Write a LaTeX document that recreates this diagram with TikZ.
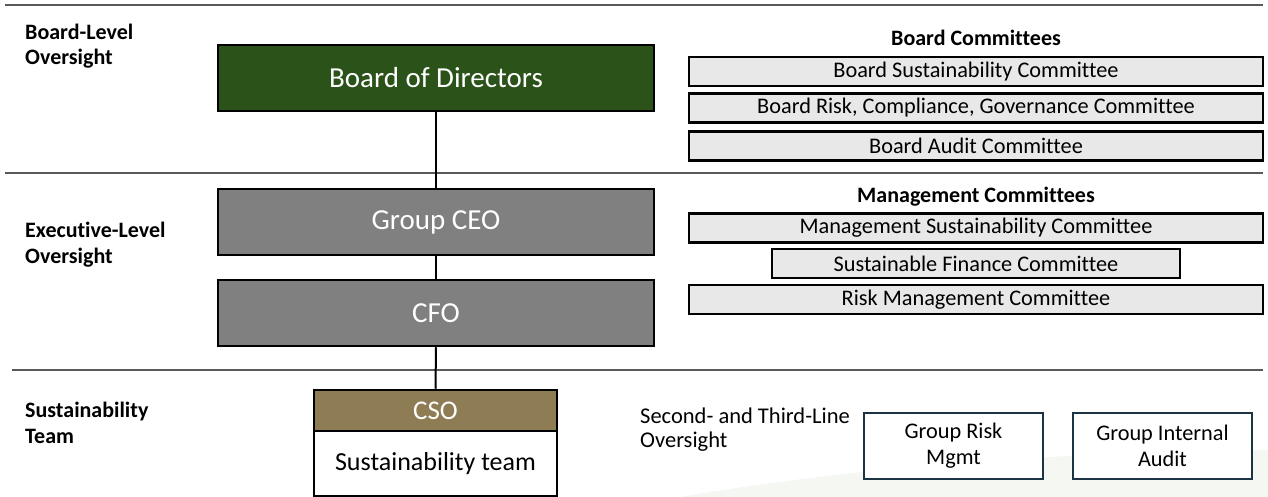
\documentclass[tikz,border=0pt]{standalone}
\usepackage{fontspec}
\setmainfont{Carlito}[Ligatures={NoCommon}]
\definecolor{bodgreen}{HTML}{2B5219}
\definecolor{execgrey}{HTML}{808080}
\definecolor{csobrown}{HTML}{8E7C54}
\definecolor{comfill}{HTML}{E8E8E8}
\definecolor{navy}{HTML}{1B3445}
\definecolor{sepgrey}{HTML}{595959}
\definecolor{wmark}{HTML}{F5F7F3}
\begin{document}
\begin{tikzpicture}[x=1bp,y=-1bp,
  bigbox/.style={draw=black,line width=2.5bp,inner sep=0pt,minimum width=436bp,minimum height=66bp,text=white,font=\fontsize{29bp}{32bp}\selectfont},
  combox/.style={draw=black,line width=2.5bp,fill=comfill,inner sep=0pt,minimum width=574bp,minimum height=29bp,font=\fontsize{22.3bp}{25bp}\selectfont},
  grpbox/.style={draw=navy,line width=2bp,fill=white,inner sep=0pt,minimum width=179bp,minimum height=66bp,align=center,font=\fontsize{22.3bp}{26bp}\selectfont},
  header/.style={inner sep=0pt,font=\bfseries\fontsize{22bp}{25bp}\selectfont},
  levellabel/.style={inner sep=0pt,anchor=west,align=left,font=\bfseries\fontsize{22bp}{25.5bp}\selectfont},
  sep/.style={draw=sepgrey,line width=1.5bp},
  conn/.style={draw=black,line width=2bp}]
\useasboundingbox (0,0) rectangle (1268,497);
% faint watermark
\fill[wmark] (680,497) .. controls (850,468) and (1050,452) .. (1268,450) -- (1268,497) -- cycle;
% separators
\coordinate (s1a) at (5,5);   \coordinate (s1b) at (1263,5);
\coordinate (s2a) at (5,173); \coordinate (s2b) at (1263,173);
\coordinate (s3a) at (12,370); \coordinate (s3b) at (1263,370);
\draw[sep] (s1a) -- (s1b);
\draw[sep] (s2a) -- (s2b);
\draw[sep] (s3a) -- (s3b);
% level labels
\node[levellabel] (lab1) at (25,46) {Board-Level\\Oversight};
\node[levellabel] (lab2) at (25,244.5) {Executive-Level\\Oversight};
\node[levellabel] (lab3) at (25,423) {Sustainability\\Team};
% main chain
\node[bigbox,fill=bodgreen] (bod) at (436,78) {Board of Directors};
\node[bigbox,fill=execgrey] (ceo) at (436,222) {Group CEO};
\node[bigbox,fill=execgrey] (cfo) at (436,313) {CFO};
\node[draw=black,line width=2.5bp,fill=csobrown,inner sep=0pt,minimum width=243bp,minimum height=41bp,text=white,font=\fontsize{27bp}{30bp}\selectfont] (cso) at (435.5,410.5) {CSO};
\node[draw=black,line width=2bp,fill=white,inner sep=0pt,minimum width=243bp,minimum height=65bp,font=\fontsize{26bp}{29bp}\selectfont] (team) at (435.5,463.5) {Sustainability team};
\draw[conn] (bod.south) -- (ceo.north);
\draw[conn] (ceo.south) -- (cfo.north);
\draw[conn] (cfo.south) -- (cso.north);
% board committees
\node[header] (bch) at (976,38) {Board Committees};
\node[combox] (bsc) at (976,71.5) {Board Sustainability Committee};
\node[combox] (brc) at (976,108) {Board Risk, Compliance, Governance Committee};
\node[combox] (bac) at (976,146) {Board Audit Committee};
% management committees
\node[header] (mch) at (976,197) {Management Committees};
\node[combox] (msc) at (976,228) {Management Sustainability Committee};
\node[combox,minimum width=408bp] (sfc) at (976,263.5) {Sustainable Finance Committee};
\node[combox] (rmc) at (976,299.5) {Risk Management Committee};
% second and third line
\node[inner sep=0pt,anchor=west,align=left,font=\fontsize{22.5bp}{24bp}\selectfont] (sto) at (640,430) {Second- and Third-Line\\Oversight};
\node[grpbox] (grm) at (953.5,446) {Group Risk\\Mgmt};
\node[grpbox] (gia) at (1162.5,446) {Group Internal\\Audit};
\end{tikzpicture}
\end{document}
